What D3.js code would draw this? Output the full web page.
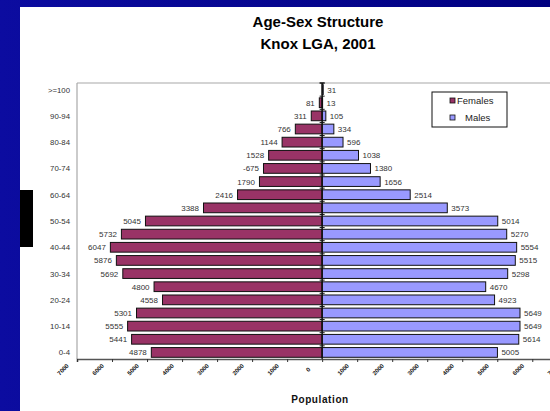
<!DOCTYPE html>
<html><head><meta charset="utf-8">
<script src="https://cdn.jsdelivr.net/npm/d3@7"></script>
<style>html,body{margin:0;padding:0;overflow:hidden;background:#000080}</style>
</head><body>
<svg id="c" width="550" height="411"></svg>
<script>
const ageGroups = ["0-4","5-9","10-14","15-19","20-24","25-29","30-34","35-39","40-44","45-49","50-54","55-59","60-64","65-69","70-74","75-79","80-84","85-89","90-94","95-99",">=100"];
const shownAgeLabels = ["0-4","10-14","20-24","30-34","40-44","50-54","60-64","70-74","80-84","90-94",">=100"];
const femaleValues = [4878,5441,5555,5301,4558,4800,5692,5876,6047,5732,5045,3388,2416,1790,1675,1528,1144,766,311,81,0];
const femaleLabels = ["4878","5441","5555","5301","4558","4800","5692","5876","6047","5732","5045","3388","2416","1790","-675","1528","1144","766","311","81",""];
const maleValues = [5005,5614,5649,5649,4923,4670,5298,5515,5554,5270,5014,3573,2514,1656,1380,1038,596,334,105,13,31];
const xTicks = [-7000,-6000,-5000,-4000,-3000,-2000,-1000,0,1000,2000,3000,4000,5000,6000,7000];
const seriesNames = ["Females","Males"];
const titleLines = ["Age-Sex Structure","Knox LGA, 2001"];
const xTitle = "Population";

(function(){
const svg = d3.select("#c");
const font = "'Liberation Sans', Arial, sans-serif";
const colF = "#993366", colM = "#9999ff";

// background
const defs = svg.append("defs");
const g1 = defs.append("linearGradient").attr("id","bg").attr("x1","0").attr("x2","1").attr("y1","0").attr("y2","0");
g1.append("stop").attr("offset","0").attr("stop-color","#0c0ca0");
g1.append("stop").attr("offset","1").attr("stop-color","#000080");
svg.append("rect").attr("width",550).attr("height",411).attr("fill","url(#bg)");
svg.append("rect").attr("x",20).attr("y",7).attr("width",530).attr("height",404).attr("fill","#fff");
svg.append("rect").attr("x",20).attr("y",190).attr("width",13).attr("height",57).attr("fill","#000");

// titles
svg.selectAll("text.title").data(titleLines).join("text")
  .attr("x",318).attr("y",(d,i)=>27+i*22).attr("text-anchor","middle")
  .attr("font-family",font).attr("font-weight","bold").attr("font-size",15).attr("fill","#000").text(d=>d);

const pLeft = 77, pTop = 83, pBottom = 359;
const x = d3.scaleLinear().domain([-7000,7000]).range([77,567.3]);
const y = d3.scaleBand().domain(ageGroups.slice().reverse()).range([pTop,pBottom]).paddingInner(0.26).paddingOuter(0.13);

// plot border
svg.append("line").attr("x1",pLeft).attr("x2",550).attr("y1",pTop).attr("y2",pTop).attr("stroke","#a8a8a8").attr("stroke-width",1.2);
svg.append("line").attr("x1",pLeft).attr("x2",pLeft).attr("y1",pTop).attr("y2",pBottom).attr("stroke","#a8a8a8").attr("stroke-width",1.2);

// bars
const rows = ageGroups.map((a,i)=>({a,f:femaleValues[i],fl:femaleLabels[i],m:maleValues[i]}));
svg.selectAll("rect.f").data(rows.filter(d=>d.f>0)).join("rect")
  .attr("x",d=>x(-d.f)).attr("y",d=>y(d.a)).attr("width",d=>x(0)-x(-d.f)).attr("height",y.bandwidth())
  .attr("fill",colF).attr("stroke","#111").attr("stroke-width",1);
svg.selectAll("rect.m").data(rows.filter(d=>d.m>0)).join("rect")
  .attr("x",x(0)).attr("y",d=>y(d.a)).attr("width",d=>x(d.m)-x(0)).attr("height",y.bandwidth())
  .attr("fill",colM).attr("stroke","#111").attr("stroke-width",1);

// value labels
svg.selectAll("text.fl").data(rows).join("text")
  .attr("x",d=>x(-d.f)-4.5).attr("y",d=>y(d.a)+y.bandwidth()/2+3)
  .attr("text-anchor","end").attr("font-family",font).attr("font-size",8).attr("fill","#333").text(d=>d.fl);
svg.selectAll("text.ml").data(rows).join("text")
  .attr("x",d=>x(d.m)+4).attr("y",d=>y(d.a)+y.bandwidth()/2+3)
  .attr("text-anchor","start").attr("font-family",font).attr("font-size",8).attr("fill","#333").text(d=>String(d.m));

// zero axis
svg.append("line").attr("x1",x(0)).attr("x2",x(0)).attr("y1",pTop).attr("y2",pBottom).attr("stroke","#111").attr("stroke-width",1.5);
const bounds = ageGroups.map(a=>y(a)-y.step()*y.paddingInner()/2).concat([pTop]);
svg.selectAll("line.zt").data(bounds).join("line")
  .attr("x1",x(0)-2.5).attr("x2",x(0)+2.5).attr("y1",d=>d).attr("y2",d=>d).attr("stroke","#111").attr("stroke-width",1);

// category labels
svg.selectAll("text.cat").data(shownAgeLabels).join("text")
  .attr("x",70).attr("y",d=>y(d)+y.bandwidth()/2+3).attr("text-anchor","end")
  .attr("font-family",font).attr("font-size",7.8).attr("fill","#333").text(d=>d);

// bottom axis
const xAxis = svg.append("g").attr("transform",`translate(0,${pBottom})`)
  .call(d3.axisBottom(x).tickValues(xTicks).tickSize(3).tickFormat(d=>String(Math.abs(d))));
xAxis.select(".domain").attr("stroke","#555").attr("stroke-width",1.6);
xAxis.selectAll(".tick line").attr("stroke","#333");
xAxis.selectAll(".tick text")
  .attr("font-family",font).attr("font-size",6).attr("font-weight","bold").attr("fill","#111")
  .attr("text-anchor","middle").attr("dy",null)
  .attr("transform","translate(-13,12) rotate(-45)").attr("y",0);

svg.append("text").attr("x",320).attr("y",403).attr("text-anchor","middle")
  .attr("font-family",font).attr("font-weight","bold").attr("font-size",10).attr("letter-spacing",0.6).attr("fill","#111").text(xTitle);

// legend
const lg = svg.append("g");
lg.append("rect").attr("x",432).attr("y",92).attr("width",75).attr("height",35).attr("fill","#fff").attr("stroke","#111").attr("stroke-width",1);
const lgItems = seriesNames.map((n,i)=>({n,c:[colF,colM][i]}));
lg.selectAll("rect.sw").data(lgItems).join("rect")
  .attr("x",450).attr("y",(d,i)=>98+i*17).attr("width",5).attr("height",5)
  .attr("fill",d=>d.c).attr("stroke","#111").attr("stroke-width",0.8);
lg.selectAll("text").data(lgItems).join("text")
  .attr("x",(d,i)=>i===0?457:465).attr("y",(d,i)=>104+i*17)
  .attr("font-family",font).attr("font-size",9.5).attr("fill","#222").text(d=>d.n);
})();
</script>
</body></html>
